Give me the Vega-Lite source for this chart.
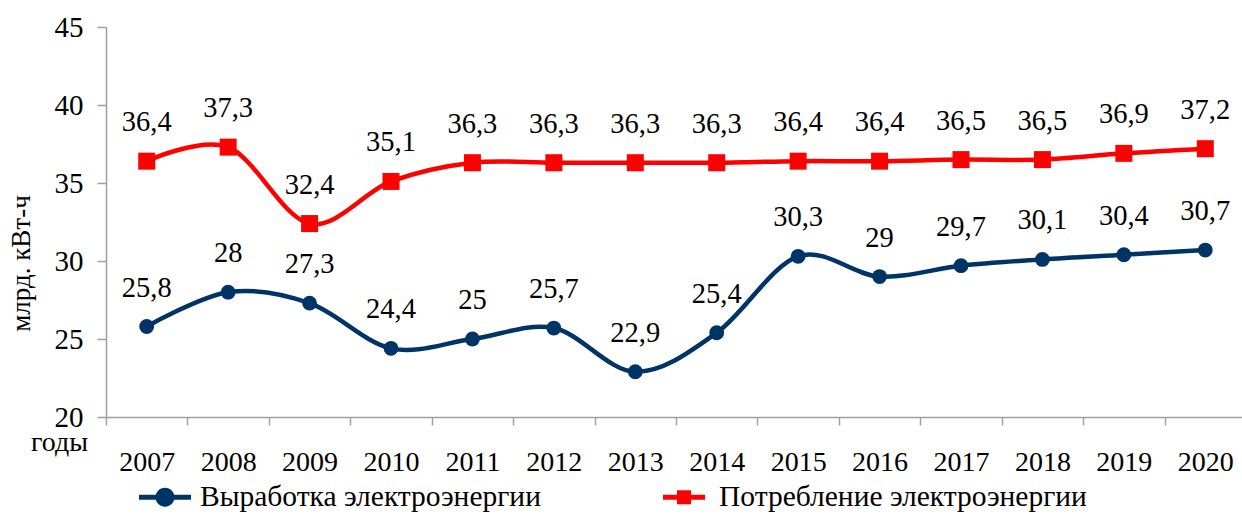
{
  "$schema": "https://vega.github.io/schema/vega-lite/v6.json",
  "width": 1140,
  "height": 390,
  "autosize": {"type": "none"},
  "padding": {"left": 106, "top": 27, "right": 0, "bottom": 97},
  "background": "white",
  "config": {"view": {"stroke": null}, "font": "Liberation Serif"},
  "data": {"values": [
    {"year": "2007", "series": "Выработка электроэнергии", "value": 25.8, "label": "25,8"},
    {"year": "2008", "series": "Выработка электроэнергии", "value": 28, "label": "28"},
    {"year": "2009", "series": "Выработка электроэнергии", "value": 27.3, "label": "27,3"},
    {"year": "2010", "series": "Выработка электроэнергии", "value": 24.4, "label": "24,4"},
    {"year": "2011", "series": "Выработка электроэнергии", "value": 25, "label": "25"},
    {"year": "2012", "series": "Выработка электроэнергии", "value": 25.7, "label": "25,7"},
    {"year": "2013", "series": "Выработка электроэнергии", "value": 22.9, "label": "22,9"},
    {"year": "2014", "series": "Выработка электроэнергии", "value": 25.4, "label": "25,4"},
    {"year": "2015", "series": "Выработка электроэнергии", "value": 30.3, "label": "30,3"},
    {"year": "2016", "series": "Выработка электроэнергии", "value": 29, "label": "29"},
    {"year": "2017", "series": "Выработка электроэнергии", "value": 29.7, "label": "29,7"},
    {"year": "2018", "series": "Выработка электроэнергии", "value": 30.1, "label": "30,1"},
    {"year": "2019", "series": "Выработка электроэнергии", "value": 30.4, "label": "30,4"},
    {"year": "2020", "series": "Выработка электроэнергии", "value": 30.7, "label": "30,7"},
    {"year": "2007", "series": "Потребление электроэнергии", "value": 36.4, "label": "36,4"},
    {"year": "2008", "series": "Потребление электроэнергии", "value": 37.3, "label": "37,3"},
    {"year": "2009", "series": "Потребление электроэнергии", "value": 32.4, "label": "32,4"},
    {"year": "2010", "series": "Потребление электроэнергии", "value": 35.1, "label": "35,1"},
    {"year": "2011", "series": "Потребление электроэнергии", "value": 36.3, "label": "36,3"},
    {"year": "2012", "series": "Потребление электроэнергии", "value": 36.3, "label": "36,3"},
    {"year": "2013", "series": "Потребление электроэнергии", "value": 36.3, "label": "36,3"},
    {"year": "2014", "series": "Потребление электроэнергии", "value": 36.3, "label": "36,3"},
    {"year": "2015", "series": "Потребление электроэнергии", "value": 36.4, "label": "36,4"},
    {"year": "2016", "series": "Потребление электроэнергии", "value": 36.4, "label": "36,4"},
    {"year": "2017", "series": "Потребление электроэнергии", "value": 36.5, "label": "36,5"},
    {"year": "2018", "series": "Потребление электроэнергии", "value": 36.5, "label": "36,5"},
    {"year": "2019", "series": "Потребление электроэнергии", "value": 36.9, "label": "36,9"},
    {"year": "2020", "series": "Потребление электроэнергии", "value": 37.2, "label": "37,2"}
  ]},
  "encoding": {
    "x": {
      "field": "year", "type": "ordinal",
      "scale": {"type": "band", "paddingInner": 0, "paddingOuter": 0},
      "axis": {
        "title": "годы", "titleX": -47, "titleY": 33, "titleAlign": "center", "titleBaseline": "alphabetic",
        "titleFontSize": 28, "titleFontWeight": "normal", "titleColor": "black", "titleFont": "Liberation Serif",
        "labelAngle": 0, "labelFontSize": 28, "labelColor": "black", "labelPadding": 23, "labelFont": "Liberation Serif",
        "tickBand": "extent", "tickSize": 8, "tickColor": "#a0a0a0", "tickWidth": 1.5,
        "domainColor": "#a0a0a0", "domainWidth": 1.5, "grid": false
      }
    },
    "y": {
      "field": "value", "type": "quantitative",
      "scale": {"domain": [20, 45], "nice": false, "zero": false},
      "axis": {
        "title": "млрд. кВт-ч", "titleX": -85, "titleY": 236, "titleAngle": -90, "titleAlign": "center", "titleBaseline": "middle",
        "titleFontSize": 27, "titleFontWeight": "normal", "titleColor": "black", "titleFont": "Liberation Serif",
        "values": [20, 25, 30, 35, 40, 45], "labelFontSize": 29, "labelColor": "black", "labelPadding": 14, "labelFont": "Liberation Serif",
        "tickSize": 9, "tickColor": "#a0a0a0", "tickWidth": 1.5,
        "domainColor": "#a0a0a0", "domainWidth": 1.5, "grid": false
      }
    }
  },
  "layer": [
    {
      "mark": {"type": "line", "interpolate": "cardinal", "strokeWidth": 4.5},
      "encoding": {
        "color": {
          "field": "series", "type": "nominal",
          "scale": {"domain": ["Выработка электроэнергии", "Потребление электроэнергии"], "range": ["#003366", "#FF0000"]},
          "legend": {
            "orient": "none", "legendX": 33, "legendY": 444, "direction": "horizontal", "title": null,
            "labelFontSize": 29.5, "labelColor": "black", "labelOffset": 9, "labelLimit": 1000, "labelFont": "Liberation Serif",
            "columnPadding": 117, "symbolSize": 2704, "padding": 0, "symbolStrokeWidth": 0,
            "encode": {
              "symbols": {
                "update": {
                  "shape": {"signal": "datum.value === 'Выработка электроэнергии' ? 'M-1,-0.1H1V0.1H-1Z M0.365,0A0.365,0.365 0 1,1 -0.365,0A0.365,0.365 0 1,1 0.365,0Z' : 'M-0.81,-0.1H0.81V0.1H-0.81Z M-0.27,-0.27H0.27V0.27H-0.27Z'"},
                  "fill": {"scale": "color", "field": "value"},
                  "strokeWidth": {"value": 0},
                  "opacity": {"value": 1},
                  "fillOpacity": {"value": 1}
                }
              }
            }
          }
        }
      }
    },
    {
      "transform": [{"filter": "datum.series === 'Выработка электроэнергии'"}],
      "mark": {"type": "point", "shape": "circle", "filled": true, "opacity": 1, "size": 220},
      "encoding": {"color": {"field": "series", "type": "nominal", "legend": null}}
    },
    {
      "transform": [{"filter": "datum.series === 'Потребление электроэнергии'"}],
      "mark": {"type": "point", "shape": "square", "filled": true, "opacity": 1, "size": 289},
      "encoding": {"color": {"field": "series", "type": "nominal", "legend": null}}
    },
    {
      "mark": {"type": "text", "dy": -39, "fontSize": 28.5, "color": "black", "baseline": "middle", "font": "Liberation Serif"},
      "encoding": {"text": {"field": "label"}}
    }
  ]
}
